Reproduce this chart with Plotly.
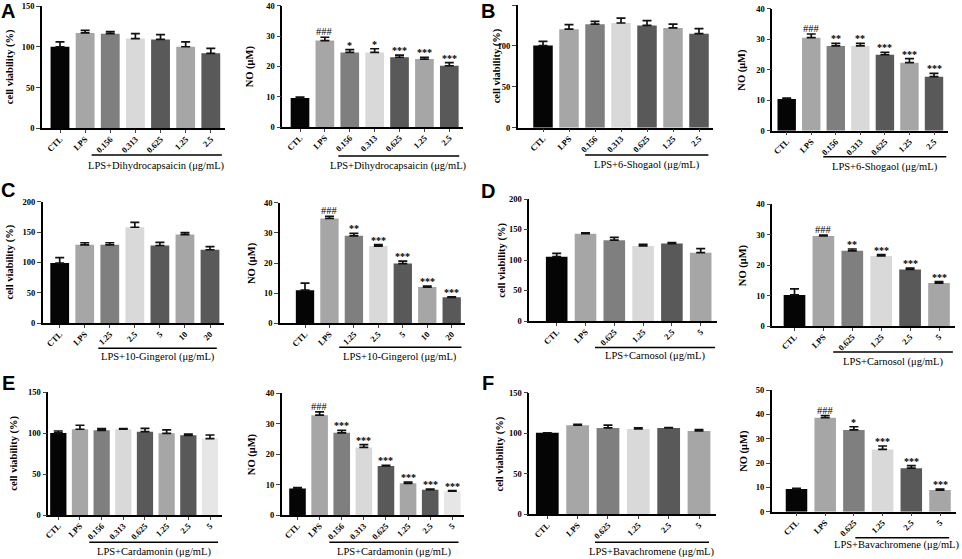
import plotly.graph_objects as go

# Values (cell viability % and NO in uM, mean + SD)
a_labels = ["CTL", "LPS", "0.156", "0.313", "0.625", "1.25", "2.5"]
a_via = [100, 117, 116, 110, 109, 100, 92]
a_via_err = [6, 3, 2.5, 6, 6, 6, 6]
a_no = [9.6, 28.5, 24.6, 24.6, 23.0, 22.4, 20.2]
a_no_err = [0.3, 1.1, 0.9, 1.2, 0.7, 0.6, 1.0]
a_sig = ["", "###", "*", "*", "***", "***", "***"]

b_labels = ["CTL", "LPS", "0.156", "0.313", "0.625", "1.25", "2.5"]
b_via = [100.5, 120.5, 126.5, 128, 125, 122, 115]
b_via_err = [5, 5.5, 3.5, 6, 6, 4.5, 6]
b_no = [10.4, 30.5, 27.8, 27.8, 24.9, 22.3, 17.7]
b_no_err = [0.3, 1.2, 0.8, 0.8, 0.8, 1.3, 1.1]
b_sig = ["", "###", "**", "**", "***", "***", "***"]

c_labels = ["CTL", "LPS", "1.25", "2.5", "5", "10", "20"]
c_via = [99, 129, 129, 158, 128, 146, 121]
c_via_err = [9, 3.5, 3.5, 8, 5, 3, 5]
c_no = [11.0, 34.8, 29.0, 25.6, 19.8, 12.0, 8.6]
c_no_err = [2.3, 0.7, 0.8, 0.5, 0.8, 0.3, 0.2]
c_sig = ["", "###", "**", "***", "***", "***", "***"]

d_labels = ["CTL", "LPS", "0.625", "1.25", "2.5", "5"]
d_via = [105.5, 143, 132.5, 123, 127, 112]
d_via_err = [5.5, 1.5, 4.5, 2.5, 1.5, 6.5]
d_no = [10.2, 29.6, 24.7, 23.0, 18.6, 14.1]
d_no_err = [2.0, 0.3, 0.6, 0.5, 0.4, 0.5]
d_sig = ["", "###", "**", "***", "***", "***"]

e_labels = ["CTL", "LPS", "0.156", "0.313", "0.625", "1.25", "2.5", "5"]
e_via = [100.3, 104.8, 103.5, 104.8, 101.9, 99.9, 97.4, 93.4]
e_via_err = [2.4, 4.9, 2.1, 0.8, 4.1, 4.1, 1.6, 4.4]
e_no = [8.7, 32.8, 27.0, 22.2, 16.1, 10.4, 8.3, 7.8]
e_no_err = [0.3, 1.1, 0.8, 0.9, 0.2, 0.4, 0.2, 0.2]
e_sig = ["", "###", "***", "***", "***", "***", "***", "***"]

f_labels = ["CTL", "LPS", "0.625", "1.25", "2.5", "5"]
f_via = [100.5, 110, 106.5, 105.3, 106.5, 102.8]
f_via_err = [0, 1, 3.5, 1.2, 0.5, 1.6]
f_no = [9.3, 38.6, 33.6, 25.6, 17.9, 8.9]
f_no_err = [0.3, 0.9, 1.3, 1.4, 1.0, 0.4]
f_sig = ["", "###", "*", "***", "***", "***"]

compounds = ["Dihydrocapsaicin", "6-Shogaol", "10-Gingerol", "Carnosol", "Cardamonin", "Bavachromene"]
panel_letters = ["A", "B", "C", "D", "E", "F"]

W, H = 962, 559
SERIF = "Liberation Serif"
BAR_COLORS = ["#050505", "#a6a6a6", "#7f7f7f", "#d9d9d9", "#595959", "#a6a6a6", "#595959", "#e6e6e6"]

# pixel geometry of each small plot:
# axis x, first bar centre, last bar centre, top tick y, zero y, y max, dtick,
# bracket start/end (category units), bracket y, label y, y-title x, label centre x (None = bracket centre)
geo = [
    (42, 60, 210.8, 6, 128.3, 150, 50, 1.26, 6.44, 155, 166, 10, None),
    (282.3, 300, 449.3, 5.7, 127, 40, 10, 1.54, 6.4, 156, 166, 250, None),
    (517.7, 543, 699, 5, 127.7, 150, 50, 1.62, 6.36, 155, 165, 497, None),
    (772.3, 786.7, 934, 8.7, 130.7, 40, 10, 1.49, 6.5, 156.7, 166.7, 742, None),
    (42.7, 59.7, 210, 201.7, 323.3, 200, 50, 1.54, 6.27, 348.3, 357, 9, None),
    (280, 305, 451.7, 202.7, 323.3, 40, 10, 1.4, 6.4, 347.3, 356.5, 252, None),
    (529.3, 556.7, 700.7, 199, 321, 200, 50, 1.33, 5.5, 347.5, 356, 501.7, None),
    (772.3, 794.5, 939, 204.3, 326, 40, 10, 1.34, 5.48, 352, 361.5, 743, None),
    (48.3, 58.3, 210, 392.3, 515, 150, 50, 1.43, 7.37, 542.3, 551.5, 14, None),
    (281.7, 297.5, 452.3, 393.3, 515, 40, 10, 1.44, 7.28, 542.3, 551.5, 252, None),
    (529.3, 547.3, 699, 392.7, 514.3, 150, 50, 1.57, 5.33, 542.3, 551.7, 499, None),
    (771.7, 796.5, 940, 390, 511.7, 50, 10, 2.05, 5.32, 537.7, 545, 744, 896),
]
letter_pos = [(8, 11.5), (488, 11.5), (8, 190), (488, 191), (8, 383), (488, 383)]

panels = [
    (a_labels, a_via, a_via_err, None), (a_labels, a_no, a_no_err, a_sig),
    (b_labels, b_via, b_via_err, None), (b_labels, b_no, b_no_err, b_sig),
    (c_labels, c_via, c_via_err, None), (c_labels, c_no, c_no_err, c_sig),
    (d_labels, d_via, d_via_err, None), (d_labels, d_no, d_no_err, d_sig),
    (e_labels, e_via, e_via_err, None), (e_labels, e_no, e_no_err, e_sig),
    (f_labels, f_via, f_via_err, None), (f_labels, f_no, f_no_err, f_sig),
]

fig = go.Figure()
for i, ((labels, vals, errs, sig), g) in enumerate(zip(panels, geo), start=1):
    ax, c0, c1, ytop, ybot, ymax, dtick, lx0, lx1, ly, ty, tx, tcx = g
    sfx = "" if i == 1 else str(i)
    xa, ya = "x" + sfx, "y" + sfx
    n = len(labels)
    step = (c1 - c0) / (n - 1)
    off = (c0 - ax) / step
    x_end = c1 + 0.55 * step

    fig.add_trace(go.Bar(
        x=labels, y=vals, width=0.75, xaxis=xa, yaxis=ya, showlegend=False,
        marker=dict(color=BAR_COLORS[:n], line=dict(width=0)),
        error_y=dict(type="data", array=errs, arrayminus=[0] * n, symmetric=False,
                     color="#111111", thickness=1.7, width=4.5),
    ))
    fig.update_layout({
        "xaxis" + sfx: dict(domain=[ax / W, x_end / W], range=[-off, n - 1 + 0.55], anchor=ya,
                            type="category", automargin=False, showline=True, linecolor="black",
                            linewidth=1.5, ticks="outside", ticklen=3, tickwidth=1.2, tickangle=-45,
                            ticklabelstandoff=-2, showgrid=False,
                            tickfont=dict(family=SERIF, size=8.5, color="black", weight="bold")),
        "yaxis" + sfx: dict(domain=[1 - ybot / H, 1 - ytop / H], range=[0, ymax], anchor=xa,
                            automargin=False, dtick=dtick, showline=True, linecolor="black",
                            linewidth=1.5, ticks="outside", ticklen=4, tickwidth=1.2, showgrid=False,
                            zeroline=False,
                            tickfont=dict(family=SERIF, size=8.5, color="black", weight="bold")),
    })

    # significance marks above the error bars
    if sig:
        for j, s in enumerate(sig):
            if s:
                hashes = s.startswith("#")
                fig.add_annotation(x=j, y=vals[j] + errs[j], xref=xa, yref=ya, text=s,
                                   showarrow=False, xanchor="center", yanchor="bottom",
                                   yshift=-2 if hashes else -3,
                                   font=dict(family=SERIF, size=10.5 if hashes else 10,
                                             color="black", weight="normal" if hashes else "bold"))

    # treatment bracket + label
    fig.add_shape(type="line", xref=xa, yref="paper", x0=lx0, x1=lx1,
                  y0=1 - ly / H, y1=1 - ly / H, line=dict(color="black", width=1.5))
    text_x = (lx0 + lx1) / 2 if tcx is None else (tcx - c0) / step
    fig.add_annotation(x=text_x, y=1 - ty / H, xref=xa, yref="paper",
                       text="LPS+" + compounds[(i - 1) // 2] + " (μg/mL)", showarrow=False,
                       xanchor="center", yanchor="middle",
                       font=dict(family=SERIF, size=10.5, color="black"))

    # y axis title
    ytitle = "cell viability (%)" if i % 2 == 1 else "NO (μM)"
    fig.add_annotation(x=tx / W, y=1 - (ytop + ybot) / 2 / H, xref="paper", yref="paper",
                       text=ytitle, textangle=-90, showarrow=False,
                       xanchor="center", yanchor="middle",
                       font=dict(family=SERIF, size=10.5, color="black", weight="bold"))

for letter, (lx, lyy) in zip(panel_letters, letter_pos):
    fig.add_annotation(x=lx / W, y=1 - lyy / H, xref="paper", yref="paper", text=letter,
                       showarrow=False, xanchor="center", yanchor="middle",
                       font=dict(family="Liberation Sans", size=20, color="black", weight="bold"))

fig.update_layout(width=W, height=H, margin=dict(l=0, r=0, t=0, b=0),
                  paper_bgcolor="white", plot_bgcolor="white")

# drop the browser's default 8px body margin so the figure fills the window
fig.write_html("out.html", config={"displayModeBar": False},
               post_script="document.body.style.margin='0px';")
